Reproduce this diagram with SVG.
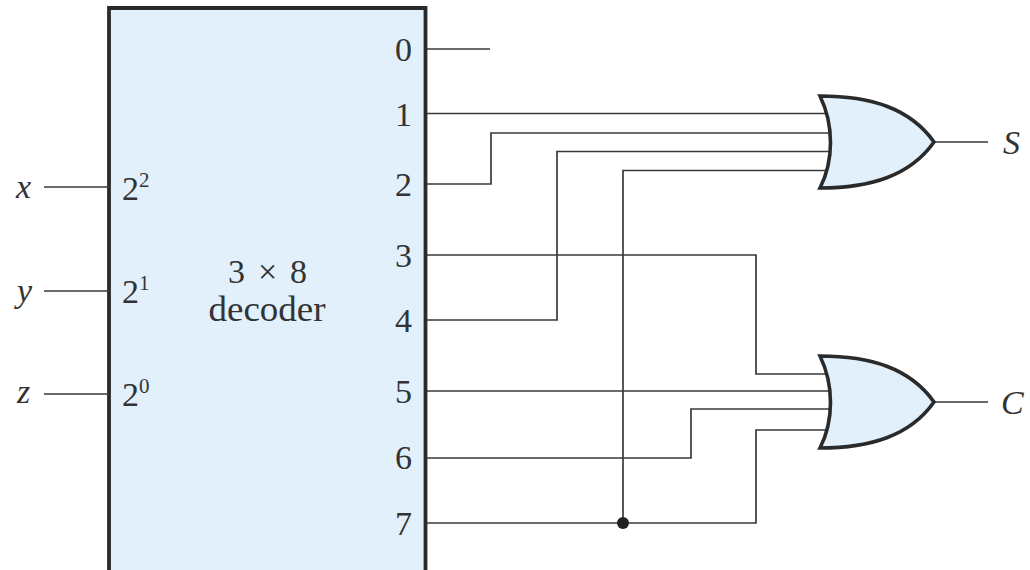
<svg xmlns="http://www.w3.org/2000/svg" width="1030" height="570" viewBox="0 0 1030 570">
<style>
.w{fill:none;stroke:#3a3a3a;stroke-width:1.7}
.g{fill:#e1f0fb;stroke:#2a2a2a;stroke-width:3.6}
.t{font-family:"Liberation Serif",serif;font-size:34px;fill:#333}
.i{font-style:italic}
.s{font-size:21px}
.l{font-size:36px}
</style>
<rect width="1030" height="570" fill="#fff"/>
<g id="decoder"><path d="M109 572V8H425.500V572" fill="#e1f0fb" stroke="#2a2a2a" stroke-width="3.800"/>
<text class="t" x="122" y="200">2<tspan class="s" dy="-13">2</tspan></text>
<text class="t" x="122" y="303">2<tspan class="s" dy="-13">1</tspan></text>
<text class="t" x="122" y="406">2<tspan class="s" dy="-13">0</tspan></text>
<text class="t" x="228" y="283">3</text>
<text class="t" x="267.500" y="283" text-anchor="middle">×</text>
<text class="t" x="290" y="283">8</text>
<text class="t l" x="267" y="321" text-anchor="middle" textLength="117" lengthAdjust="spacingAndGlyphs">decoder</text>
<text class="t" x="395" y="61">0</text><text class="t" x="395" y="126">1</text><text class="t" x="395" y="196">2</text><text class="t" x="395" y="267">3</text><text class="t" x="395" y="332">4</text><text class="t" x="395" y="403">5</text><text class="t" x="395" y="469">6</text><text class="t" x="395" y="535">7</text></g>
<g id="connectors">
<path class="w" d="M44 187H109M44 291H109M44 394H109M427 49H490M427 113.500H826M427 184H491V133H830M427 320H557V151.500H831M623 523V170.500H826M427 255H756V374H826M427 391H832M427 458H691V409H831M427 523H756V430H826M934 142H988M934 402H988"/>
<circle cx="623" cy="523" r="6" fill="#222"/>
</g>
<g id="or-s"><path class="g" d="M820 96C870 96 910 108 934 142C910 176 870 188 820 188C834 160 834 125 820 96Z"/></g>
<g id="or-c"><path class="g" d="M820 356C870 356 910 368 934 402C910 436 870 448 820 448C834 420 834 385 820 356Z"/></g>
<g id="labels">
<text class="t i" x="16" y="198">x</text><text class="t i" x="17" y="302">y</text><text class="t i" x="17" y="403">z</text>
<text class="t i" x="1003" y="154">S</text><text class="t i" x="1001" y="414">C</text>
</g>
</svg>
